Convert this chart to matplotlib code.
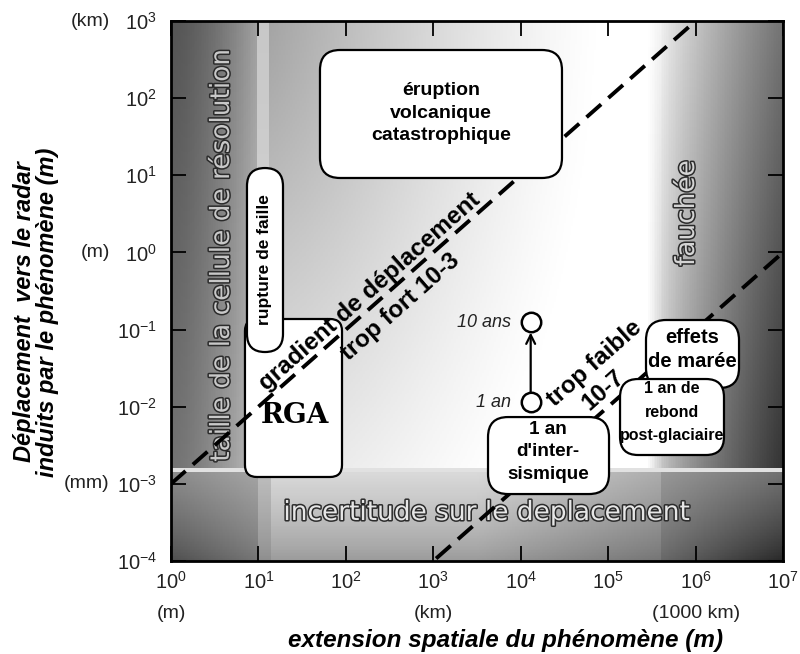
import numpy as np
import matplotlib
matplotlib.use('Agg')
import matplotlib.pyplot as plt
import matplotlib.patheffects as pe
from matplotlib.patches import FancyBboxPatch
from matplotlib.ticker import FixedLocator, NullLocator

plt.rcParams['font.family'] = 'Liberation Sans'

# ---- data ----
x_ticks = [1e0, 1e1, 1e2, 1e3, 1e4, 1e5, 1e6, 1e7]
y_ticks = [1e-4, 1e-3, 1e-2, 1e-1, 1e0, 1e1, 1e2, 1e3]
x_unit_pos = [1e0, 1e3, 1e6]
x_unit_txt = ['(m)', '(km)', '(1000 km)']
y_unit_pos = [1e3, 1e0, 1e-3]
y_unit_txt = ['(km)', '(m)', '(mm)']

# gradient limits (displacement / extension)
grad_ratio = [1e-3, 1e-7]
grad_x = np.array([1e0, 1e7])

# interseismic accumulation: 1 year and 10 years
circ_x = [1.3e4, 1.3e4]
circ_y = [0.0115, 0.125]
circ_lab = ['1 an', '10 ans']

# phenomenon boxes in decades: (text, log x0, log x1, log y0, log y1, corner px)
boxes = [
    ('RGA', 0.846, 1.956, -2.911, -0.863, 12),
    ('rupture de faille', 0.869, 1.281, -1.291, 1.094, 18),
    ("1 an\nd'inter-\nsismique", 3.626, 5.010, -3.132, -2.134, 20),
    ('effets\nde marée', 5.433, 6.497, -1.758, -0.876, 20),
    ('1 an de\nrebond\npost-glaciaire', 5.136, 6.325, -2.626, -1.641, 18),
    ('éruption\nvolcanique\ncatastrophique', 1.704, 4.472, 0.965, 2.624, 20),
]

fig = plt.figure(figsize=(8, 6.54), dpi=100, facecolor='white')
rect = [171 / 800, 1 - 561 / 654, 612 / 800, 540 / 654]
ax = fig.add_axes(rect)
ax.set_xscale('log')
ax.set_yscale('log')
ax.set_xlim(1e0, 1e7)
ax.set_ylim(1e-4, 1e3)

# helper axes in decades, only used as a transform for rounded boxes
ov = fig.add_axes(rect, frameon=False)
ov.set_xlim(0, 7)
ov.set_ylim(-4, 3)
ov.set_axis_off()

# ---- shaded background ----
ue = np.linspace(0, 7, 351)
ve = np.linspace(-4, 3, 351)
U, V = np.meshgrid((ue[:-1] + ue[1:]) / 2, (ve[:-1] + ve[1:]) / 2)

r = np.sqrt(((U - 0.5) / 1.0) ** 2 + ((V - 3.8) / 2.2) ** 2)
main = 1 - 0.45 * np.clip(1 - r / 4.5, 0, 1) ** 1.3

t = np.clip((V + 2.8) / 5.8, 0, 1)
left = (0.33 + 0.3 * np.clip(U / 0.99, 0, 1) ** 1.5) * t + \
       (0.45 + 0.3 * np.clip(U / 0.99, 0, 1) ** 1.5) * (1 - t)
stripe = 0.78 * t + 0.85 * (1 - t)
s = np.clip((U - 5.6) / 1.4, 0, 1)
right = (0.95 - 0.5 * s ** 0.8) * t + (0.8 - 0.6 * s ** 0.7) * (1 - t)
blend = np.clip((U - 5.45) / 0.15, 0, 1)

tb = np.clip((V + 4) / 1.2, 0, 1)
hu = [0, 0.99, 1.0, 1.13, 1.14, 3.5, 5.6, 5.61, 7]
top_p = [0.55, 0.65, 0.75, 0.75, 0.86, 0.86, 0.68, 0.6, 0.45]
bot_p = [0.3, 0.45, 0.55, 0.55, 0.6, 0.6, 0.45, 0.4, 0.15]
bottom = np.interp(U, hu, top_p) * tb ** 0.8 + np.interp(U, hu, bot_p) * (1 - tb ** 0.8)

B = main * (1 - blend) + right * blend
B = np.where(U < 1.13, stripe, B)
B = np.where(U < 0.99, left, B)
B = np.where(V < -2.8, bottom, B)
B = np.where((V >= -2.83) & (V < -2.79), np.maximum(B, 0.88), B)
ax.pcolormesh(10 ** ue, 10 ** ve, B, cmap='gray', vmin=0, vmax=1,
              shading='flat', zorder=0, rasterized=True)

# ---- outlined region labels ----
outl = [pe.Stroke(linewidth=2.2, foreground='#2b2b2b'), pe.Normal()]
ax.text(10 ** 0.583, 10 ** -0.033, 'taille de la cellule de résolution',
        rotation=90, ha='center', va='center', fontsize=19, color='#c8c8c8',
        family='DejaVu Sans', path_effects=outl, zorder=1)
ax.text(10 ** 5.902, 10 ** 0.511, 'fauchée', rotation=90, ha='center',
        va='center', fontsize=19, color='#d4d4d4', family='DejaVu Sans',
        path_effects=outl, zorder=1)
ax.text(10 ** 3.614, 10 ** -3.378, 'incertitude sur le deplacement',
        ha='center', va='center', fontsize=19, color='#e6e6e6',
        family='DejaVu Sans', path_effects=outl, zorder=1)

# ---- gradient limit lines ----
ax.plot(grad_x, grad_ratio[1] * grad_x, color='black', lw=2.8,
        dashes=(5, 2.5), zorder=2)
ax.plot(grad_x, grad_ratio[0] * grad_x, color='black', lw=2.8,
        dashes=(5, 2.5), zorder=4)

# ---- boxes ----
asp = (612 / 7) / (540 / 7)
zb = {'RGA': 3, 'rupture de faille': 3.5}
for txt, u0, u1, v0, v1, rad in boxes:
    p = FancyBboxPatch((u0, v0), u1 - u0, v1 - v0,
                       boxstyle='round,pad=0,rounding_size=%.3f' % (rad / 87.43),
                       mutation_aspect=asp, transform=ov.transData,
                       facecolor='white', edgecolor='black', lw=1.6,
                       zorder=zb.get(txt, 5 if txt.startswith('é') else 3))
    ax.add_patch(p)

ax.text(10 ** 1.418, 10 ** -2.108, 'RGA', ha='center', va='center',
        fontsize=20, fontweight='bold', family='DejaVu Serif', zorder=6)
ax.text(10 ** 1.075, 10 ** -0.098, 'rupture de faille', rotation=90,
        ha='center', va='center', fontsize=12.5, fontweight='bold', zorder=6)
ax.text(10 ** 3.088, 10 ** 1.807, boxes[5][0], ha='center', va='center',
        fontsize=14, fontweight='bold', linespacing=1.4, zorder=6)
ax.text(10 ** 4.312, 10 ** -2.587, boxes[2][0], ha='center', va='center',
        fontsize=13.6, fontweight='bold', linespacing=1.4, zorder=6)
ax.text(10 ** 5.959, 10 ** -1.258, boxes[3][0], ha='center', va='center',
        fontsize=14.5, fontweight='bold', linespacing=1.35, zorder=6)
ax.text(10 ** 5.730, 10 ** -2.069, boxes[4][0], ha='center', va='center',
        fontsize=11.5, fontweight='bold', linespacing=1.7, zorder=6)

# diagonal annotations along the limits
ang = np.degrees(np.arctan2(540 / 7, 612 / 7))
diag = [('gradient de déplacement', 2.276, -0.513),
        ('trop fort 10-3', 2.619, -0.708),
        ('trop faible', 4.850, -1.433),
        ('10-7', 4.941, -1.784)]
for txt, u, v in diag:
    ax.text(10 ** u, 10 ** v, txt, rotation=ang, rotation_mode='anchor',
            ha='center', va='center', fontsize=17.5, fontweight='bold',
            zorder=7)

# ---- interseismic circles ----
ax.plot(circ_x, circ_y, 'o', ms=14, mfc='white', mec='black', mew=1.8,
        zorder=7)
ax.annotate('', xy=(circ_x[1], circ_y[1]), xytext=(circ_x[0], circ_y[0]),
            arrowprops=dict(arrowstyle='->', lw=1.6, color='black',
                            shrinkA=7.5, shrinkB=7.5, mutation_scale=16),
            zorder=7)
for cx, cy, lab in zip(circ_x, circ_y, circ_lab):
    ax.annotate(lab, (cx, cy), xytext=(-14, 0), textcoords='offset points',
                ha='right', va='center', fontsize=13, style='italic',
                color='#222222', zorder=7)

# ---- axes styling ----
ax.xaxis.set_major_locator(FixedLocator(x_ticks))
ax.yaxis.set_major_locator(FixedLocator(y_ticks))
ax.xaxis.set_minor_locator(NullLocator())
ax.yaxis.set_minor_locator(NullLocator())
ax.tick_params(which='major', direction='in', length=11, width=1.3,
               top=True, right=True, labelsize=14.5, labelcolor='#222222')
ax.tick_params(axis='x', pad=7)
ax.tick_params(axis='y', pad=10)
for sp in ax.spines.values():
    sp.set_linewidth(2)

for xp, tx in zip(x_unit_pos, x_unit_txt):
    ax.text(xp, -0.097, tx, transform=ax.get_xaxis_transform(), ha='center',
            va='center', fontsize=14, color='#222222')
for yp, tx in zip(y_unit_pos, y_unit_txt):
    ax.text(-0.1, yp, tx, transform=ax.get_yaxis_transform(), ha='right',
            va='center', fontsize=14, color='#222222')

fig.text(506 / 800, 1 - 640 / 654, 'extension spatiale du phénomène (m)',
         ha='center', va='center', fontsize=17.5, fontweight='bold',
         style='italic')
fig.text(36 / 800, 1 - 312 / 654,
         'Déplacement  vers le radar\ninduits par le phénomène (m)',
         ha='center', va='center', rotation=90, fontsize=17,
         fontweight='bold', style='italic', linespacing=1.05)

fig.savefig('out.png', dpi=100, facecolor='white')
